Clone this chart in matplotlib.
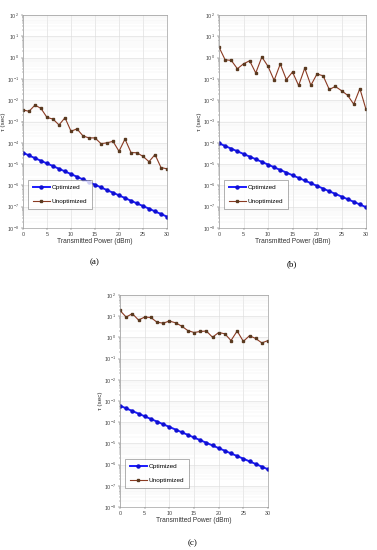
import numpy as np
import matplotlib
matplotlib.use('Agg')
import matplotlib.pyplot as plt
from matplotlib.ticker import LogLocator, FixedLocator

# transmitted power (dBm)
power = [0, 1.25, 2.5, 3.75, 5, 6.25, 7.5, 8.75, 10, 11.25, 12.5, 13.75, 15,
         16.25, 17.5, 18.75, 20, 21.25, 22.5, 23.75, 25, 26.25, 27.5, 28.75, 30]

# (a)
opt_a = [3.4e-5, 2.55e-5, 1.9e-5, 1.43e-5, 1.07e-5, 8.1e-6, 6.0e-6, 4.55e-6, 3.4e-6,
         2.55e-6, 1.9e-6, 1.43e-6, 1.07e-6, 8.1e-7, 6.0e-7, 4.55e-7, 3.4e-7, 2.55e-7,
         1.9e-7, 1.43e-7, 1.07e-7, 8.1e-8, 6.0e-8, 4.55e-8, 3.4e-8]
unopt_a = [3.5e-3, 3.0e-3, 5.9e-3, 4.1e-3, 1.55e-3, 1.3e-3, 6.9e-4, 1.5e-3, 3.5e-4,
           4.5e-4, 2.1e-4, 1.7e-4, 1.7e-4, 9.1e-5, 1.0e-4, 1.17e-4, 4.0e-5, 1.5e-4,
           3.5e-5, 3.4e-5, 2.3e-5, 1.3e-5, 2.8e-5, 6.9e-6, 6.0e-6]

# (b)
opt_b = [9.5e-5, 7.1e-5, 5.3e-5, 4.0e-5, 3.0e-5, 2.25e-5, 1.7e-5, 1.27e-5, 9.5e-6,
         7.1e-6, 5.3e-6, 4.0e-6, 3.0e-6, 2.25e-6, 1.7e-6, 1.27e-6, 9.5e-7, 7.1e-7,
         5.3e-7, 4.0e-7, 3.0e-7, 2.25e-7, 1.7e-7, 1.27e-7, 9.5e-8]
unopt_b = [3.1, 0.79, 0.74, 0.30, 0.51, 0.71, 0.19, 1.07, 0.39, 0.085, 0.50, 0.093,
           0.21, 0.049, 0.32, 0.050, 0.17, 0.14, 0.032, 0.044, 0.028, 0.017, 0.0065,
           0.035, 0.0037]

# (c)
opt_c = [6.0e-4, 4.5e-4, 3.37e-4, 2.53e-4, 1.9e-4, 1.42e-4, 1.07e-4, 8.0e-5, 6.0e-5,
         4.5e-5, 3.37e-5, 2.53e-5, 1.9e-5, 1.42e-5, 1.07e-5, 8.0e-6, 6.0e-6, 4.5e-6,
         3.37e-6, 2.53e-6, 1.9e-6, 1.42e-6, 1.07e-6, 8.0e-7, 6.0e-7]
unopt_c = [18.6, 9.1, 13.2, 6.6, 9.1, 8.7, 5.2, 4.7, 5.9, 4.9, 3.4, 2.1, 1.7, 1.9, 2.0,
           1.02, 1.7, 1.48, 0.71, 2.0, 0.65, 1.2, 0.89, 0.55, 0.71]

W, H = 377, 550
FONT = 'Liberation Sans'


def px_axes(fig, left, top, right, bottom):
    # pixel box -> figure fraction
    return fig.add_axes([left / W, 1 - bottom / H, (right - left) / W, (bottom - top) / H])


def panel(ax, opt, unopt):
    ax.semilogy(power, opt, '-', color='#1a1aff', lw=1.4, marker='o', ms=2.2,
                mfc='#1010d0', mec='#1010d0', label='Optimized')
    ax.semilogy(power, unopt, '-', color='#8a3a22', lw=0.8, marker='s', ms=1.6,
                mfc='#5a3a20', mec='#5a3a20', label='Unoptimized')
    ax.set_xlim(0, 30)
    ax.set_ylim(1e-8, 1e2)
    ax.xaxis.set_major_locator(FixedLocator([0, 5, 10, 15, 20, 25, 30]))
    ax.yaxis.set_major_locator(LogLocator(base=10, numticks=20))
    ax.yaxis.set_minor_locator(LogLocator(base=10, subs=np.arange(2, 10), numticks=20))
    ax.grid(True, which='major', color='#d8d8d8', lw=0.4)
    ax.grid(True, which='minor', color='#ededed', lw=0.3)
    ax.set_axisbelow(True)
    ax.tick_params(labelsize=3.9, length=1.5, width=0.3, pad=1.2, colors='#444444')
    ax.tick_params(which='minor', length=0.8, width=0.2)
    for t in ax.get_xticklabels() + ax.get_yticklabels():
        t.set_fontfamily(FONT)
    for s in ax.spines.values():
        s.set_linewidth(0.4)
        s.set_color('#888888')
    ax.set_xlabel('Transmitted Power (dBm)', fontsize=4.8, family=FONT, labelpad=1, color='#333333')
    ax.set_ylabel('τ (sec)', fontsize=4.6, family=FONT, labelpad=1, color='#333333')
    leg = ax.legend(loc='lower left', bbox_to_anchor=(0.02, 0.08),
                    prop={'family': FONT, 'size': 4.6}, frameon=True, fancybox=False,
                    edgecolor='#555555', handlelength=2.6, borderpad=0.8, labelspacing=1.3,
                    handletextpad=0.3, borderaxespad=0.3)
    leg.get_frame().set_linewidth(0.4)


fig = plt.figure(figsize=(W / 100, H / 100), dpi=100, facecolor='white')

ax_a = px_axes(fig, 23, 15, 167, 228)
panel(ax_a, opt_a, unopt_a)
ax_b = px_axes(fig, 219, 15, 366, 228)
panel(ax_b, opt_b, unopt_b)
ax_c = px_axes(fig, 120, 295, 268, 507)
panel(ax_c, opt_c, unopt_c)

fig.text(95 / W, 1 - 262 / H, '(a)', ha='center', va='center', fontsize=6.5, family='Liberation Serif')
fig.text(292 / W, 1 - 264 / H, '(b)', ha='center', va='center', fontsize=6.5, family='Liberation Serif')
fig.text(193 / W, 1 - 543 / H, '(c)', ha='center', va='center', fontsize=6.5, family='Liberation Serif')

fig.savefig('out.png', dpi=100)
